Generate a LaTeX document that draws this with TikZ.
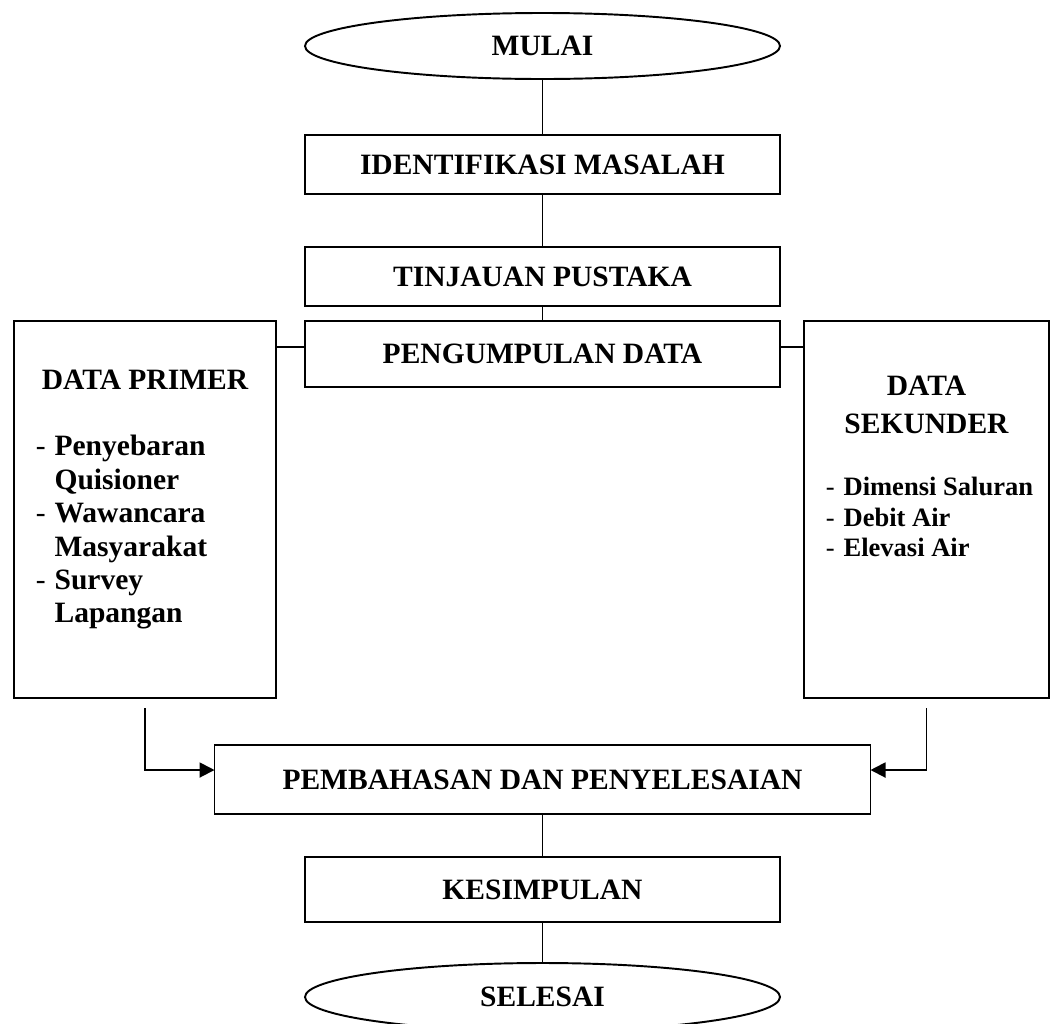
\documentclass[tikz,border=0pt]{standalone}
\usepackage{fontspec}
\setmainfont{Liberation Serif}
\usetikzlibrary{arrows.meta,shapes,positioning}
\tikzset{
    stepbox/.style={draw, rectangle, outer sep=0pt, minimum width=9.5cm, minimum height=1.18cm},
    terminal/.style={draw, ellipse, outer sep=0pt, minimum width=9.5cm, minimum height=1.32cm},
    sidebox/.style={draw, rectangle, outer sep=0pt, minimum height=7.54cm},
    listtext/.style={inner sep=0pt},
    flow/.style={-{Triangle[length=3mm, width=3mm]}}
}

\begin{document}
\begin{tikzpicture}[node distance=1cm, line width=1.1pt, font=\fontsize{16.8}{19}\selectfont\bfseries]
\useasboundingbox (0,0) rectangle (21.02,-20.46);
\node[terminal] (mulai) at (10.85,-0.92) {MULAI};
\node[stepbox, below=1.12cm of mulai] (identifikasi) {IDENTIFIKASI MASALAH};
\node[stepbox, below=1.06cm of identifikasi] (tinjauan) {TINJAUAN PUSTAKA};
\node[stepbox, minimum height=1.32cm, below=0.3cm of tinjauan] (pengumpulan) {PENGUMPULAN DATA};
\node[sidebox, minimum width=5.24cm, left=0.58cm of pengumpulan.north west, anchor=north east] (primer) {};
\node[sidebox, minimum width=4.9cm, right=0.48cm of pengumpulan.north east, anchor=north west] (sekunder) {};
\node[stepbox, minimum width=13.12cm, minimum height=1.38cm, below=7.16cm of pengumpulan] (pembahasan) {PEMBAHASAN DAN PENYELESAIAN};
\node[stepbox, minimum height=1.3cm, below=0.86cm of pembahasan] (kesimpulan) {KESIMPULAN};
\node[terminal, minimum height=1.36cm, below=0.82cm of kesimpulan] (selesai) {SELESAI};

% isi data primer
\node[anchor=base] (primertitle) at ([yshift=-1.36cm]primer.north) {DATA PRIMER};
\node[listtext, anchor=north west] (primerlist) at ([xshift=0.42cm, yshift=-2.21cm]primer.north west) {%
    \begin{tabular}{@{}l@{\hspace{5pt}}l@{}}
    \mdseries - & Penyebaran\\
      & Quisioner\\
    \mdseries - & Wawancara\\
      & Masyarakat\\
    \mdseries - & Survey\\
      & Lapangan
    \end{tabular}};

% isi data sekunder
\node[listtext, anchor=north, font=\fontsize{16.8}{21.6}\selectfont\bfseries] (sekundertitle) at ([yshift=-0.93cm]sekunder.north) {%
    \begin{tabular}{@{}c@{}}DATA\\SEKUNDER\end{tabular}};
\node[listtext, anchor=north west, font=\fontsize{15.1}{17.6}\selectfont\bfseries] (sekunderlist) at ([xshift=0.42cm, yshift=-3.03cm]sekunder.north west) {%
    \begin{tabular}{@{}l@{\hspace{5pt}}l@{}}
    \mdseries - & Dimensi Saluran\\
    \mdseries - & Debit Air\\
    \mdseries - & Elevasi Air
    \end{tabular}};

\coordinate[below=0.2cm of primer.south] (primerout);
\coordinate[below=0.2cm of sekunder.south] (sekunderout);

\draw (mulai) -- (identifikasi);
\draw (identifikasi) -- (tinjauan);
\draw (tinjauan) -- (pengumpulan);
\draw ([yshift=1.4mm]pengumpulan.west) -- ([yshift=1.4mm]pengumpulan.west -| primer.east);
\draw ([yshift=1.4mm]pengumpulan.east) -- ([yshift=1.4mm]pengumpulan.east -| sekunder.west);
\draw[flow] (primerout) |- ([yshift=1.9mm]pembahasan.west);
\draw[flow] (sekunderout) |- ([yshift=1.9mm]pembahasan.east);
\draw (pembahasan) -- (kesimpulan);
\draw (kesimpulan) -- (selesai);
\end{tikzpicture}
\end{document}
